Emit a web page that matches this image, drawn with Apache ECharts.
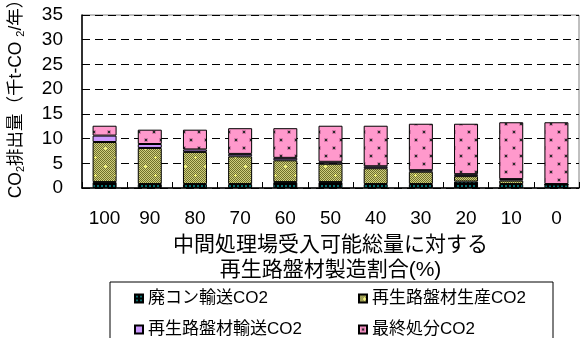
<!DOCTYPE html>
<html>
<head>
<meta charset="utf-8">
<script src="https://cdn.jsdelivr.net/npm/echarts@6/dist/echarts.min.js"></script>
<style>
  html, body { margin: 0; padding: 0; background: #fff; }
  #chart { width: 582px; height: 338px; }
</style>
</head>
<body>
<div id="chart"></div>
<script>
// Recycled base-course share (%) on the horizontal axis
const categories = ['100', '90', '80', '70', '60', '50', '40', '30', '20', '10', '0'];

// CO2 emissions by stage (thousand t-CO2 / year)
const wasteTransport   = [1.2, 0.8, 0.8, 0.8, 1.2, 1.2, 0.8, 0.8, 1.3, 0.8, 0.7];
const baseProduction   = [8.1, 7.3, 6.5, 5.6, 4.4, 3.7, 3.2, 2.5, 1.1, 0.7, 0.0];
const baseTransport    = [1.3, 0.8, 0.5, 0.5, 0.5, 0.4, 0.4, 0.3, 0.4, 0.3, 0.1];
const finalDisposal    = [2.0, 2.9, 4.0, 5.2, 6.0, 7.3, 8.2, 9.4, 10.2, 11.5, 12.5];

const seriesNames = ['廃コン輸送CO2', '再生路盤材生産CO2', '再生路盤材輸送CO2', '最終処分CO2'];
const yTicks = { min: 0, max: 35, interval: 5 };

// Small tiled fills for the hatched bar segments
function makePattern(w, h, draw) {
  const c = document.createElement('canvas');
  c.width = w; c.height = h;
  draw(c.getContext('2d'));
  return { image: c, repeat: 'repeat' };
}

const darkFill = makePattern(4, 4, g => {
  g.fillStyle = '#000'; g.fillRect(0, 0, 4, 4);
  g.fillStyle = '#0b7070'; g.fillRect(1, 1, 2, 2);
});

const oliveFill = makePattern(20, 18, g => {
  for (let y = 0; y < 18; y++) {
    for (let x = 0; x < 20; x++) {
      g.fillStyle = (x + y) % 2 === 0 ? '#70702c' : '#cfcf7e';
      g.fillRect(x, y, 1, 1);
    }
  }
  g.fillStyle = '#f4f47a';
  const plus = (cx, cy) => { g.fillRect(cx - 1, cy, 3, 1); g.fillRect(cx, cy - 1, 1, 3); };
  plus(5, 4); plus(15, 13);
});

const pinkFill = makePattern(15, 16, g => {
  g.fillStyle = '#ff99cc'; g.fillRect(0, 0, 15, 16);
  g.fillStyle = '#d479a8';
  g.fillRect(2, 2, 4, 4); g.fillRect(9, 10, 4, 4);
  g.fillStyle = '#2a2a2a';
  g.fillRect(3, 3, 2, 2); g.fillRect(10, 11, 2, 2);
});

const purpleFill = '#cc99ff';

const fills = [darkFill, oliveFill, purpleFill, pinkFill];
const values = [wasteTransport, baseProduction, baseTransport, finalDisposal];

const baseFont = '"Liberation Sans", "Noto Sans CJK JP", sans-serif';

const chart = echarts.init(document.getElementById('chart'), null, { renderer: 'canvas' });

chart.setOption({
  animation: false,
  backgroundColor: '#fff',
  grid: {
    left: 82, right: 3, top: 15, bottom: 150,
    outerBoundsMode: 'none',
    containLabel: false,
    show: true, borderColor: '#808080', borderWidth: 1, backgroundColor: 'transparent'
  },
  legend: {
    left: 110, top: 282, width: 400,
    padding: [6, 21, 8, 24],
    itemWidth: 8, itemHeight: 8, itemGap: 10,
    icon: 'rect',
    borderColor: '#000', borderWidth: 1,
    backgroundColor: '#fff',
    textStyle: {
      fontFamily: baseFont, fontSize: 17, color: '#000',
      width: 200, lineHeight: 21
    },
    data: [
      { name: seriesNames[0] },
      { name: seriesNames[1], textStyle: { width: 160 } },
      { name: seriesNames[2] },
      { name: seriesNames[3], textStyle: { width: 160 } }
    ]
  },
  xAxis: {
    type: 'category',
    data: categories,
    axisLine: { lineStyle: { color: '#000', width: 1.5 } },
    axisTick: { show: true, inside: true, length: 6, lineStyle: { color: '#000' } },
    axisLabel: { fontFamily: baseFont, fontSize: 19, color: '#000', margin: 21 },
    name: '中間処理場受入可能総量に対する\n再生路盤材製造割合(%)',
    nameLocation: 'middle',
    nameGap: 43,
    nameTextStyle: {
      fontFamily: baseFont, fontSize: 21, color: '#000',
      lineHeight: 25, verticalAlign: 'top', align: 'center'
    }
  },
  yAxis: {
    type: 'value',
    min: yTicks.min, max: yTicks.max, interval: yTicks.interval,
    axisLine: { show: true, lineStyle: { color: '#000', width: 1.5 } },
    axisTick: { show: false },
    axisLabel: { fontFamily: baseFont, fontSize: 19, color: '#000', margin: 19 },
    splitLine: { lineStyle: { color: '#000', type: [8, 5], width: 1 } },
    name: 'CO{s|2}排出量（千t-CO {s|2}/年）',
    nameLocation: 'middle',
    nameGap: 56,
    nameRotate: 90,
    nameTextStyle: {
      fontFamily: baseFont, fontSize: 17.5, color: '#000',
      padding: [0, 0, 0, 14],
      rich: { s: { fontFamily: baseFont, fontSize: 11, color: '#000', padding: [8, 0, 0, 0] } }
    }
  },
  series: seriesNames.map((name, i) => ({
    name,
    type: 'bar',
    stack: 'co2',
    barWidth: 24,
    data: values[i],
    itemStyle: { color: fills[i], borderColor: '#000', borderWidth: 1 }
  }))
});
</script>
</body>
</html>
